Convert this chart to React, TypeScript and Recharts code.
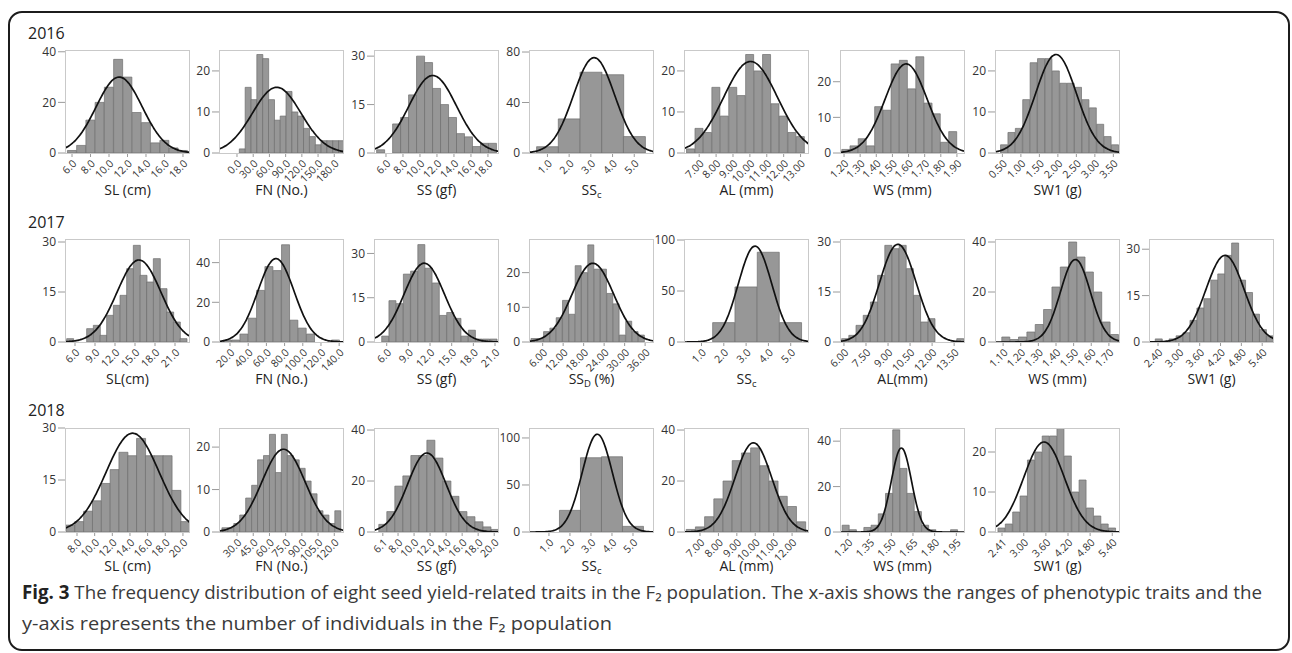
import React from 'react'
import { ComposedChart, Bar, Line, XAxis, YAxis } from 'recharts'

// ---------- 2016 ----------
const sl16Ticks = [6, 8, 10, 12, 14, 16, 18]
const sl16Counts = [1, 3, 13, 20, 26, 37, 30, 16, 12, 4, 5, 2, 1]
const fn16Ticks = [0, 30, 60, 90, 120, 150, 180]
const fn16Counts = [1, 16, 13, 24, 23, 13, 8, 9, 15, 10, 9, 6, 4, 2, 3, 3, 3, 3]
const ss16Ticks = [6, 8, 10, 12, 14, 16, 18]
const ss16Counts = [1, 0, 9, 11, 18, 30, 28, 20, 15, 11, 6, 5, 2, 3, 3]
const ssc16Ticks = [1, 2, 3, 4, 5]
const ssc16Counts = [5, 27, 64, 62, 13]
const al16Ticks = [7, 8, 9, 10, 11, 12, 13]
const al16Counts = [1, 6, 5, 16, 9, 16, 14, 24, 20, 24, 12, 9, 5, 4]
const ws16Ticks = [1.2, 1.3, 1.4, 1.5, 1.6, 1.7, 1.8, 1.9]
const ws16Counts = [1, 2, 4, 2, 13, 12, 25, 26, 18, 27, 14, 11, 3, 6]
const sw16Ticks = [0.5, 1, 1.5, 2, 2.5, 3, 3.5]
const sw16Counts = [2, 5, 6, 13, 22, 23, 23, 20, 17, 17, 16, 13, 11, 7, 4, 2]

// ---------- 2017 ----------
const sl17Ticks = [6, 9, 12, 15, 18, 21]
const sl17Counts = [1, 0, 0, 4, 5, 2, 8, 11, 14, 22, 29, 20, 18, 25, 16, 9, 6, 1]
const fn17Ticks = [20, 40, 60, 80, 100, 120, 140]
const fn17Counts = [1, 1, 4, 12, 26, 38, 36, 49, 11, 7, 4, 0, 0, 1]
const ss17Ticks = [6, 9, 12, 15, 18, 21]
const ss17Counts = [2, 14, 13, 23, 24, 33, 25, 20, 9, 10, 8, 2, 4, 1, 1, 1]
const ssd17Ticks = [6, 12, 18, 24, 30, 36]
const ssd17Counts = [1, 1, 3, 4, 7, 12, 8, 22, 20, 28, 21, 21, 14, 11, 2, 6, 3, 2]
const ssc17Ticks = [1, 2, 3, 4, 5]
const ssc17Counts = [0, 19, 54, 88, 19]
const al17Ticks = [6, 7.5, 9, 10.5, 12, 13.5]
const al17Counts = [1, 2, 5, 8, 12, 20, 29, 28, 29, 22, 14, 6, 7, 0, 0, 0, 1]
const ws17Ticks = [1.1, 1.2, 1.3, 1.4, 1.5, 1.6, 1.7]
const ws17Counts = [2, 1, 2, 4, 7, 13, 22, 30, 40, 34, 28, 20, 8, 3]
const sw17Ticks = [2.4, 3, 3.6, 4.2, 4.8, 5.4]
const sw17Counts = [1, 0, 1, 2, 3, 7, 11, 14, 20, 22, 28, 32, 20, 16, 9, 4, 2]

// ---------- 2018 ----------
const sl18Ticks = [8, 10, 12, 14, 16, 18, 20]
const sl18Counts = [2, 3, 6, 9, 14, 18, 23, 22, 27, 22, 22, 22, 12, 3]
const fn18Ticks = [30, 45, 60, 75, 90, 105, 120]
const fn18Counts = [1, 1, 2, 4, 8, 11, 17, 18, 23, 14, 23, 18, 17, 15, 12, 9, 5, 4, 2, 5]
const ss18Ticks = [6.1, 8, 10, 12, 14, 16, 18, 20]
const ss18Counts = [3, 8, 18, 22, 30, 30, 36, 29, 20, 14, 8, 6, 4, 2, 1]
const ssc18Ticks = [1, 2, 3, 4, 5]
const ssc18Counts = [0, 23, 79, 80, 6]
const al18Ticks = [7, 8, 9, 10, 11, 12]
const al18Counts = [1, 2, 6, 13, 20, 28, 31, 33, 26, 20, 14, 10, 4]
const ws18Ticks = [1.2, 1.35, 1.5, 1.65, 1.8, 1.95]
const ws18Counts = [3, 1, 0, 2, 3, 8, 17, 45, 28, 17, 9, 3, 1, 0, 0, 1]
const sw18Ticks = [2.41, 3, 3.6, 4.2, 4.8, 5.4]
const sw18Counts = [1, 2, 5, 9, 18, 20, 24, 24, 26, 19, 10, 13, 6, 4, 2, 1]

// normal fit: [mean, sd, peak]
const fit16 = [[11.1, 2.5, 30], [73.5, 45, 16], [11.5, 2.8, 24], [3.15, 0.95, 75.5], [10.04, 1.6, 22.3], [1.585, 0.13, 25], [1.95, 0.55, 24]]
const fit17 = [[15.6, 3.3, 24.6], [70.5, 20, 42], [11.2, 2.8, 26.7], [20.7, 6.1, 22.7], [3.4, 0.75, 94], [9.67, 1.25, 29.3], [1.51, 0.085, 33], [4.33, 0.55, 28]]
const fit18 = [[14.3, 3.0, 28.5], [73, 20, 19.5], [11.6, 2.4, 31], [3.3, 0.72, 104], [9.9, 1.0, 35], [1.57, 0.07, 37], [3.55, 0.55, 22.5]]

type Title = { main: string; sub?: string; rest?: string }
type Panel = {
  title: Title
  xDomain: [number, number]
  xTicks: number[]
  xDec: number
  yMax: number
  yTicks: number[]
  binStart: number
  binWidth: number
  counts: number[]
  fit: number[]
}

const mk = (title: Title, xDomain: [number, number], xTicks: number[], xDec: number, yMax: number, yTicks: number[],
  binStart: number, binWidth: number, counts: number[], fit: number[]): Panel =>
  ({ title, xDomain, xTicks, xDec, yMax, yTicks, binStart, binWidth, counts, fit })

const row16: Panel[] = [
  mk({ main: 'SL (cm)' }, [5.24, 18.76], sl16Ticks, 1, 40.7, [0, 20, 40], 5.5, 1, sl16Counts, fit16[0]),
  mk({ main: 'FN (No.)' }, [-33.3, 198], fn16Ticks, 1, 25.1, [0, 10, 20], 4.3, 10.8, fn16Counts, fit16[1]),
  mk({ main: 'SS (gf)' }, [4.59, 19.3], ss16Ticks, 1, 31.9, [0, 15, 30], 4.9, 0.94, ss16Counts, fit16[2]),
  mk({ main: 'SS', sub: 'c' }, [0.15, 5.91], ssc16Ticks, 1, 81.6, [0, 40, 80], 0.5, 1, ssc16Counts, fit16[3]),
  mk({ main: 'AL (mm)' }, [6.1, 13.5], al16Ticks, 2, 25.1, [0, 10, 20], 6.25, 0.5, al16Counts, fit16[4]),
  mk({ main: 'WS (mm)' }, [1.175, 1.95], ws16Ticks, 2, 28.9, [0, 10, 20], 1.186, 0.051, ws16Counts, fit16[5]),
  mk({ main: 'SW1 (g)' }, [0.3, 3.68], sw16Ticks, 2, 25.1, [0, 10, 20], 0.45, 0.2, sw16Counts, fit16[6]),
]

const row17: Panel[] = [
  mk({ main: 'SL(cm)' }, [4.5, 23.25], sl17Ticks, 1, 30.9, [0, 15, 30], 4.75, 1, sl17Counts, fit17[0]),
  mk({ main: 'FN (No.)' }, [7.9, 145.3], fn17Ticks, 1, 51.9, [0, 20, 40], 12.6, 9.15, fn17Counts, fit17[1]),
  mk({ main: 'SS (gf)' }, [4.24, 21.55], ss17Ticks, 1, 34.9, [0, 15, 30], 5.31, 1, ss17Counts, fit17[2]),
  mk({ main: 'SS', sub: 'D', rest: ' (%)' }, [2.0, 38.6], ssd17Ticks, 2, 29.7, [0, 10, 20], 2.57, 1.85, ssd17Counts, fit17[3]),
  mk({ main: 'SS', sub: 'c' }, [0.215, 5.82], ssc17Ticks, 1, 101, [0, 50, 100], 0.5, 1, ssc17Counts, fit17[4]),
  mk({ main: 'AL(mm)' }, [5.73, 14.24], al17Ticks, 2, 30.9, [0, 15, 30], 5.84, 0.49, al17Counts, fit17[5]),
  mk({ main: 'WS (mm)' }, [1.054, 1.763], ws17Ticks, 2, 41.2, [0, 20, 40], 1.0926, 0.0474, ws17Counts, fit17[6]),
  mk({ main: 'SW1 (g)' }, [2.14, 5.74], sw17Ticks, 2, 33.3, [0, 15, 30], 2.32, 0.2, sw17Counts, fit17[7]),
]

const row18: Panel[] = [
  mk({ main: 'SL (cm)' }, [6.64, 20.8], sl18Ticks, 1, 30, [0, 15, 30], 6.75, 1, sl18Counts, fit18[0]),
  mk({ main: 'FN (No.)' }, [13.3, 129], fn18Ticks, 1, 24.5, [0, 10, 20], 16, 5.5, fn18Counts, fit18[1]),
  mk({ main: 'SS (gf)' }, [5.0, 20.6], ss18Ticks, 1, 40.8, [0, 20, 40], 5.6, 1, ss18Counts, fit18[2]),
  mk({ main: 'SS', sub: 'c' }, [0.05, 6.0], ssc18Ticks, 1, 110.6, [0, 50, 100], 0.5, 1, ssc18Counts, fit18[3]),
  mk({ main: 'AL (mm)' }, [6.13, 12.92], al18Ticks, 2, 40.8, [0, 20, 40], 6.25, 0.5, al18Counts, fit18[4]),
  mk({ main: 'WS (mm)' }, [1.145, 2.01], ws18Ticks, 2, 45.8, [0, 20, 40], 1.16, 0.05, ws18Counts, fit18[5]),
  mk({ main: 'SW1 (g)' }, [2.22, 5.61], sw18Ticks, 2, 26, [0, 10, 20], 2.3, 0.2, sw18Counts, fit18[6]),
]

const years = ['2016', '2017', '2018']
const rows = [row16, row17, row18]

// layout
const colLeft = [65, 219, 374, 529, 684, 840, 995, 1149]
const rowTop = [50, 239, 428]
const rowH = [103, 103, 104]
const yearBase = [39, 228, 416]
const titleGap = [42, 42, 39]
const BOX_W = 125
const FONT = "'Open Sans', 'DejaVu Sans', sans-serif"

const fitCurve = (p: Panel) => {
  const [m, s, pk] = p.fit
  const [x0, x1] = p.xDomain
  const n = 100
  return Array.from({ length: n + 1 }, (_, i) => {
    const x = x0 + ((x1 - x0) * i) / n
    return { x, y: pk * Math.exp(-0.5 * ((x - m) / s) ** 2) }
  })
}

const HistPanel = ({ p, left, top, h }: { p: Panel; left: number; top: number; h: number }) => {
  const bins = p.counts.map((c, i) => ({ x: p.binStart + (i + 0.5) * p.binWidth, count: c }))
  const curve = fitCurve(p)
  return (
    <div style={{ position: 'absolute', left: left - 40, top: top - 8 }}>
      <ComposedChart
        width={BOX_W + 48}
        height={h + 58}
        data={bins}
        margin={{ top: 8, right: 8, bottom: 0, left: 0 }}
        barCategoryGap={0}
        barGap={0}
      >
        <XAxis
          type="number"
          dataKey="x"
          domain={p.xDomain}
          allowDataOverflow
          ticks={p.xTicks}
          interval={0}
          height={50}
          axisLine={false}
          tickLine={{ stroke: '#9a9a9a' }}
          tickSize={4}
          angle={-45}
          textAnchor="end"
          tick={{ fontSize: 10.5, fill: '#333', fontFamily: FONT }}
          tickFormatter={(v: number) => v.toFixed(p.xDec)}
        />
        <XAxis xAxisId="fit" type="number" dataKey="x" domain={p.xDomain} allowDataOverflow hide />
        <YAxis
          type="number"
          domain={[0, p.yMax]}
          allowDataOverflow
          ticks={p.yTicks}
          interval={0}
          width={40}
          axisLine={false}
          tickLine={{ stroke: '#9a9a9a' }}
          tickSize={7}
          tick={{ fontSize: 12, fill: '#333', fontFamily: FONT }}
        />
        <Bar dataKey="count" fill="#979797" stroke="#6e6e6e" strokeWidth={0.7} isAnimationActive={false} />
        <Line
          xAxisId="fit"
          data={curve}
          dataKey="y"
          type="monotone"
          dot={false}
          stroke="#111"
          strokeWidth={1.7}
          isAnimationActive={false}
        />
      </ComposedChart>
    </div>
  )
}

const TitleText = ({ t, x, y }: { t: Title; x: number; y: number }) => (
  <text x={x} y={y} textAnchor="middle" fontSize={14} fill="#222" fontFamily={FONT}>
    {t.main}
    {t.sub && (
      <tspan fontSize={9.5} dy={3}>
        {t.sub}
      </tspan>
    )}
    {t.rest && <tspan dy={t.sub ? -3 : 0}>{t.rest}</tspan>}
  </text>
)

export default function App() {
  return (
    <div style={{ position: 'absolute', left: 0, top: 0, width: 1292, height: 653, background: '#fff', overflow: 'hidden', fontFamily: FONT }}>
      {rows.map((row, r) =>
        row.map((p, c) => <HistPanel key={`${r}-${c}`} p={p} left={colLeft[c]} top={rowTop[r]} h={rowH[r]} />)
      )}
      <svg width={1292} height={653} style={{ position: 'absolute', left: 0, top: 0, pointerEvents: 'none' }}>
        <rect x={9} y={12} width={1280} height={638} rx={13} fill="none" stroke="#1c1c1c" strokeWidth={2} />
        {years.map((y, r) => (
          <text key={y} x={28} y={yearBase[r]} fontSize={16} fill="#222" fontFamily={FONT}>
            {y}
          </text>
        ))}
        {rows.map((row, r) =>
          row.map((p, c) => (
            <g key={`b${r}-${c}`}>
              <rect x={colLeft[c] + 0.5} y={rowTop[r] + 0.5} width={BOX_W - 1} height={rowH[r]} fill="none" stroke="#c9c9c9" />
              <TitleText t={p.title} x={colLeft[c] + BOX_W / 2} y={rowTop[r] + rowH[r] + titleGap[r]} />
            </g>
          ))
        )}
        <text x={22} y={599} fontSize={19} fill="#3a3a3a" fontFamily={FONT} textLength={1240} lengthAdjust="spacingAndGlyphs">
          <tspan fontWeight="bold" fill="#222">Fig. 3</tspan> The frequency distribution of eight seed yield-related traits in the F₂ population. The x-axis shows the ranges of phenotypic traits and the
        </text>
        <text x={22} y={630} fontSize={19} fill="#3a3a3a" fontFamily={FONT} textLength={590} lengthAdjust="spacingAndGlyphs">
          y-axis represents the number of individuals in the F₂ population
        </text>
      </svg>
    </div>
  )
}
